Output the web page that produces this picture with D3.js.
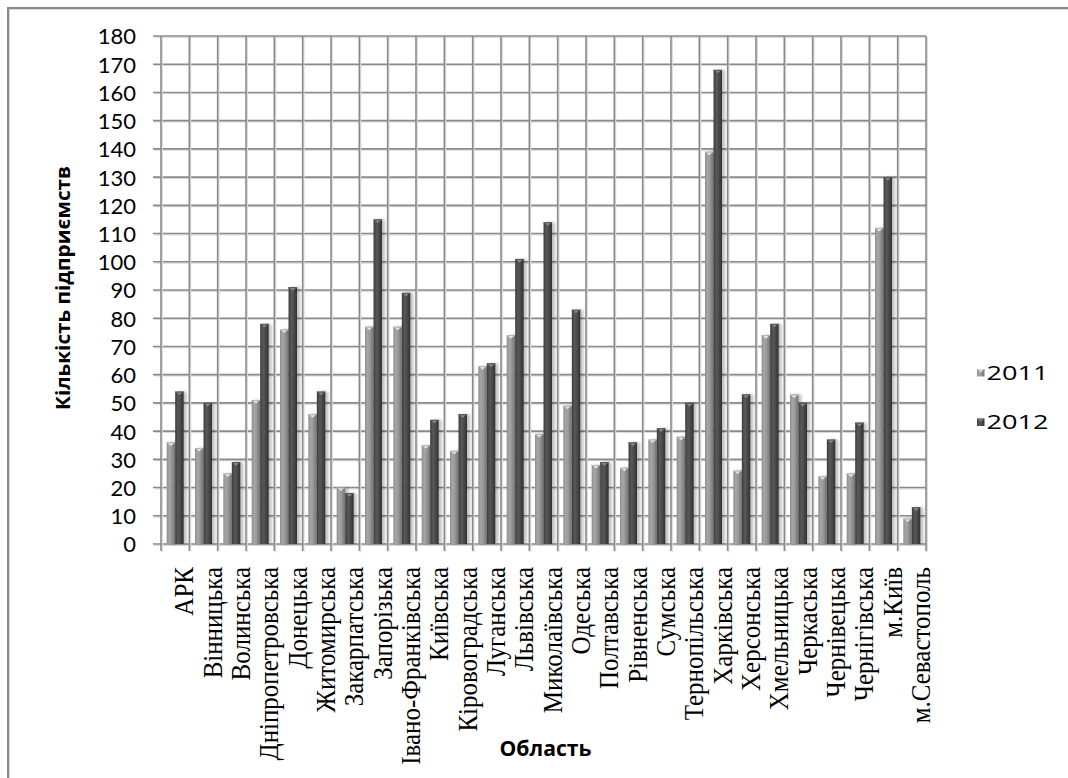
<!DOCTYPE html>
<html>
<head>
<meta charset="utf-8">
<script src="https://cdn.jsdelivr.net/npm/d3@7"></script>
<style>
  html, body { margin: 0; padding: 0; background: #fff; }
  svg { display: block; }
</style>
</head>
<body>
<svg id="chart" width="1068" height="778"></svg>
<script>
// Кількість підприємств за областями, 2011–2012
const regions = [
  "АРК", "Вінницька", "Волинська", "Дніпропетровська", "Донецька", "Житомирська",
  "Закарпатська", "Запорізька", "Івано-Франківська", "Київська", "Кіровоградська",
  "Луганська", "Львівська", "Миколаївська", "Одеська", "Полтавська", "Рівненська",
  "Сумська", "Тернопільська", "Харківська", "Херсонська", "Хмельницька", "Черкаська",
  "Чернівецька", "Чернігівська", "м.Київ", "м.Севастополь"
];
const values2011 = [36, 34, 25, 51, 76, 46, 20, 77, 77, 35, 33, 63, 74, 39, 49, 28, 27, 37, 38, 139, 26, 74, 53, 24, 25, 112, 9];
const values2012 = [54, 50, 29, 78, 91, 54, 18, 115, 89, 44, 46, 64, 101, 114, 83, 29, 36, 41, 50, 168, 53, 78, 50, 37, 43, 130, 13];
const seriesNames = ["2011", "2012"];
const yTicks = d3.range(0, 181, 10);

const seriesValues = { "2011": values2011, "2012": values2012 };

const svg = d3.select("#chart");
const plot = { left: 161, right: 926, top: 36, bottom: 544 };

// outer chart frame
svg.append("rect")
  .attr("x", 8).attr("y", 8).attr("width", 1090).attr("height", 800)
  .attr("fill", "none").attr("stroke", "#d8d8d8").attr("stroke-width", 1)
  .attr("transform", "translate(1.5,1.5)");
svg.append("rect")
  .attr("x", 8).attr("y", 8).attr("width", 1090).attr("height", 800)
  .attr("fill", "none").attr("stroke", "#8a8a8a").attr("stroke-width", 2);

const x0 = d3.scaleBand().domain(regions).range([plot.left, plot.right]).paddingInner(0).paddingOuter(0);
const x1 = d3.scaleBand().domain(seriesNames).range([x0.bandwidth() * 0.2, x0.bandwidth() * 0.8]).padding(0);
const y = d3.scaleLinear().domain([0, 180]).range([plot.bottom, plot.top]);

// gradients for the bar faces
const defs = svg.append("defs");
function barGradient(id, stops) {
  const g = defs.append("linearGradient").attr("id", id).attr("x1", "0%").attr("x2", "100%").attr("y1", "0%").attr("y2", "0%");
  stops.forEach(([o, c]) => g.append("stop").attr("offset", o).attr("stop-color", c));
}
barGradient("g2011", [["0%", "#8e8e8e"], ["30%", "#a6a6a6"], ["55%", "#9a9a9a"], ["100%", "#727272"]]);
barGradient("g2012", [["0%", "#3c3c3c"], ["35%", "#595959"], ["60%", "#4c4c4c"], ["100%", "#303030"]]);
const shadow = defs.append("filter").attr("id", "barShadow").attr("x", "-50%").attr("width", "200%");
shadow.append("feGaussianBlur").attr("in", "SourceAlpha").attr("stdDeviation", 1.6).attr("result", "b");
shadow.append("feOffset").attr("in", "b").attr("dx", 2.5).attr("dy", 0).attr("result", "o");
shadow.append("feComponentTransfer").attr("in", "o").attr("result", "s")
  .append("feFuncA").attr("type", "linear").attr("slope", 0.25);
const merge = shadow.append("feMerge");
merge.append("feMergeNode").attr("in", "s");
merge.append("feMergeNode").attr("in", "SourceGraphic");

// gridlines (double stroke for the embossed look)
const grid = svg.append("g");
function gridLine(x1p, y1p, x2p, y2p) {
  grid.append("line").attr("x1", x1p + 1.3).attr("y1", y1p + 1.3).attr("x2", x2p + 1.3).attr("y2", y2p + 1.3)
    .attr("stroke", "#dadada").attr("stroke-width", 1.2);
  grid.append("line").attr("x1", x1p).attr("y1", y1p).attr("x2", x2p).attr("y2", y2p)
    .attr("stroke", "#8a8a8a").attr("stroke-width", 1.6);
}
yTicks.forEach(t => gridLine(plot.left - 8, y(t), plot.right, y(t)));
regions.forEach(r => gridLine(x0(r), plot.top, x0(r), plot.bottom + 7));
gridLine(plot.right, plot.top, plot.right, plot.bottom + 7);

// bars
const groups = svg.append("g").selectAll("g")
  .data(regions.map((r, i) => ({ region: r, i })))
  .join("g")
  .attr("transform", d => `translate(${x0(d.region)},0)`);

const bars = groups.selectAll("g.bar")
  .data(d => seriesNames.map(s => ({ s, v: seriesValues[s][d.i] })))
  .join("g").attr("class", "bar");

bars.append("rect")
  .attr("x", d => x1(d.s))
  .attr("y", d => y(d.v))
  .attr("width", x1.bandwidth())
  .attr("height", d => y(0) - y(d.v))
  .attr("fill", d => `url(#g${d.s})`)
  .attr("filter", "url(#barShadow)");

// small bevel cap on each bar top
bars.append("path")
  .attr("d", d => {
    const l = x1(d.s), w = x1.bandwidth(), t = y(d.v);
    return `M${l + 1},${t + 0.5} L${l + w - 1},${t + 0.5} L${l + w / 2},${t + 3.5} Z`;
  })
  .attr("fill", d => d.s === "2011" ? "#e6e6e6" : "#8c8c8c");
bars.append("line")
  .attr("x1", d => x1(d.s)).attr("x2", d => x1(d.s) + x1.bandwidth())
  .attr("y1", d => y(d.v) + 0.5).attr("y2", d => y(d.v) + 0.5)
  .attr("stroke", d => d.s === "2011" ? "#b4b4b4" : "#555").attr("stroke-width", 1);

// y axis labels
const yAxis = d3.axisLeft(y).tickValues(yTicks).tickSize(0).tickPadding(0);
const yg = svg.append("g").attr("transform", `translate(${plot.left - 25},0)`).call(yAxis);
yg.select(".domain").remove();
yg.selectAll("text")
  .attr("font-family", "Lato, 'Open Sans', sans-serif")
  .attr("font-size", 22)
  .attr("fill", "#000")
  .attr("dy", "0.36em");

// x axis labels (rotated, serif)
const xAxis = d3.axisBottom(x0).tickSize(0).tickPadding(0);
const xg = svg.append("g").attr("transform", `translate(0,${plot.bottom})`).call(xAxis);
xg.select(".domain").remove();
xg.selectAll(".tick text")
  .attr("font-family", "'Liberation Serif', 'Times New Roman', serif")
  .attr("font-size", 25)
  .attr("fill", "#000")
  .attr("text-anchor", "end")
  .attr("y", 0).attr("dy", 0)
  .attr("transform", "translate(18,23) scale(1.12,1) rotate(-90)");

// axis titles
svg.append("text")
  .attr("transform", "translate(70,288) rotate(-90)")
  .attr("text-anchor", "middle")
  .attr("font-family", "'Open Sans', sans-serif")
  .attr("font-weight", "bold")
  .attr("font-size", 19)
  .attr("textLength", 244).attr("lengthAdjust", "spacingAndGlyphs")
  .text("Кількість підприємств");

svg.append("text")
  .attr("x", 545.5).attr("y", 756)
  .attr("text-anchor", "middle")
  .attr("font-family", "'Open Sans', sans-serif")
  .attr("font-weight", "bold")
  .attr("font-size", 21)
  .attr("textLength", 92).attr("lengthAdjust", "spacingAndGlyphs")
  .text("Область");

// legend
const legend = svg.append("g").selectAll("g")
  .data(seriesNames)
  .join("g")
  .attr("transform", (d, i) => `translate(977,${369 + i * 49.5})`);
legend.append("rect")
  .attr("width", 7.5).attr("height", 7.5)
  .attr("fill", d => `url(#g${d})`);
legend.append("path")
  .attr("d", "M0,0 L7.5,0 L3.75,3.5 Z")
  .attr("fill", d => d === "2011" ? "#d8d8d8" : "#777");
legend.append("text")
  .attr("x", 9.5).attr("y", 10.5)
  .attr("font-family", "'Open Sans', sans-serif")
  .attr("font-size", 20)
  .attr("textLength", 62).attr("lengthAdjust", "spacingAndGlyphs")
  .text(d => d);
</script>
</body>
</html>
